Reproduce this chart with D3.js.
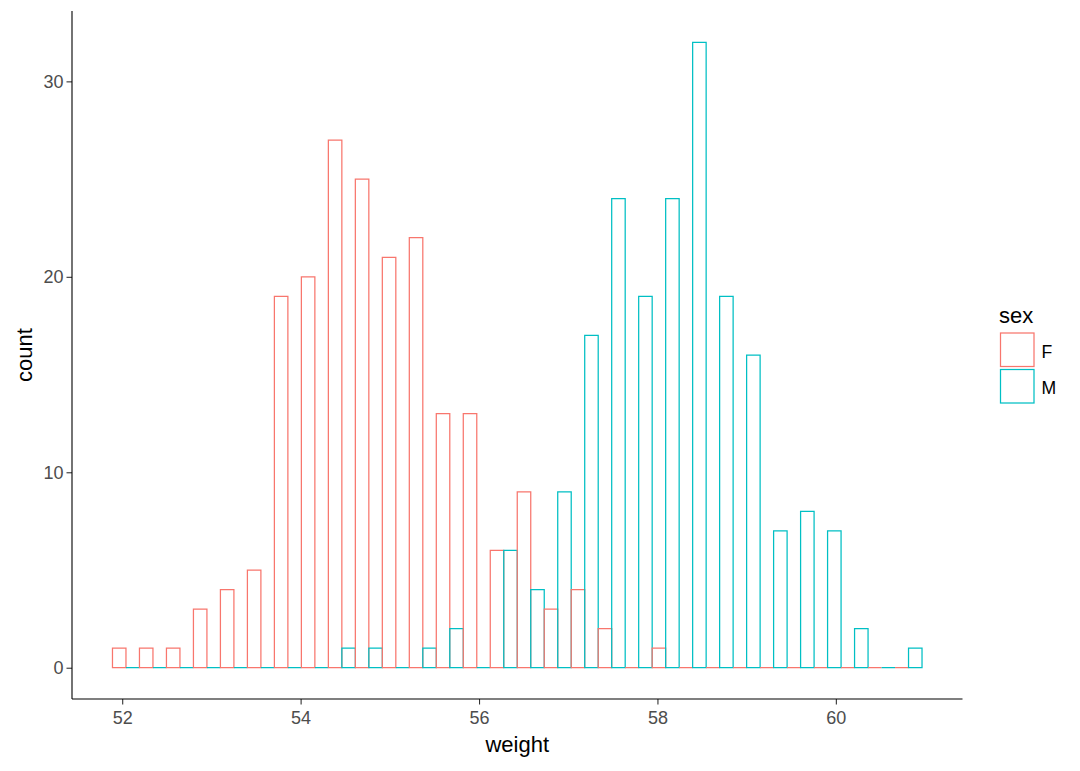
<!DOCTYPE html>
<html>
<head>
<meta charset="utf-8">
<script src="https://cdn.jsdelivr.net/npm/d3@7"></script>
<style>
  html, body { margin: 0; padding: 0; background: #fff; }
  svg { display: block; font-family: "Liberation Sans", Arial, sans-serif; }
</style>
</head>
<body>
<svg id="chart" width="1080" height="771"></svg>
<script>
// ---- data ----
const binStart = 51.891;
const binWidth = 0.3025;
const countsF = [1,1,1,3,4,5,19,20,27,25,21,22,13,13,6,9,3,4,2,0,1,0,0,0,0,0,0,0,0,0];
const countsM = [0,0,0,0,0,0,0,0,1,1,0,1,2,0,6,4,9,17,24,19,24,32,19,16,7,8,7,2,0,1];
const seriesNames = ["F", "M"];
const seriesColors = ["#F8766D", "#00BFC4"];
const xTicks = [52, 54, 56, 58, 60];
const yTicks = [0, 10, 20, 30];

// ---- layout ----
const svg = d3.select("#chart");
const panel = { left: 72, right: 962.5, top: 11, bottom: 699 };
const FONT = "Liberation Sans, Arial, sans-serif";

const nBins = countsF.length;
const dataMin = binStart, dataMax = binStart + nBins * binWidth;
const xPad = (dataMax - dataMin) * 0.05;
const x = d3.scaleLinear().domain([dataMin - xPad, dataMax + xPad]).range([panel.left, panel.right]);
const yMax = d3.max(countsF.concat(countsM));
const y = d3.scaleLinear().domain([-yMax * 0.05, yMax * 1.05]).range([panel.bottom, panel.top]);

const bars = [];
for (let i = 0; i < nBins; i++) {
  const x0 = binStart + i * binWidth;
  bars.push({ s: 0, x0: x0, x1: x0 + binWidth / 2, n: countsF[i] });
  bars.push({ s: 1, x0: x0 + binWidth / 2, x1: x0 + binWidth, n: countsM[i] });
}

const barPath = d => {
  const a = x(d.x0), b = x(d.x1), y0 = y(0), y1 = y(d.n);
  return `M${a},${y0}L${a},${y1}L${b},${y1}L${b},${y0}Z`;
};

svg.append("g").selectAll("path")
  .data(bars)
  .enter().append("path")
  .attr("d", barPath)
  .attr("fill", "none")
  .attr("stroke", d => seriesColors[d.s])
  .attr("stroke-width", 1.25);

// axes
const xAxis = d3.axisBottom(x).tickValues(xTicks).tickSize(5.5).tickPadding(7).tickFormat(d3.format("d"));
const gx = svg.append("g").attr("transform", `translate(0,${panel.bottom})`).call(xAxis);
gx.select(".domain").remove();
gx.append("line").attr("x1", panel.left).attr("x2", panel.right).attr("y1", 0).attr("y2", 0)
  .attr("stroke", "#000").attr("stroke-width", 1.1);
gx.selectAll(".tick line").attr("stroke", "#333").attr("stroke-width", 1.1);
gx.selectAll(".tick text").attr("fill", "#4d4d4d").style("font-size", "18px").style("font-family", FONT);

const yAxis = d3.axisLeft(y).tickValues(yTicks).tickSize(5.5).tickPadding(3).tickFormat(d3.format("d"));
const gy = svg.append("g").attr("transform", `translate(${panel.left},0)`).call(yAxis);
gy.select(".domain").remove();
gy.append("line").attr("x1", 0).attr("x2", 0).attr("y1", panel.top).attr("y2", panel.bottom)
  .attr("stroke", "#000").attr("stroke-width", 1.1);
gy.selectAll(".tick line").attr("stroke", "#333").attr("stroke-width", 1.1);
gy.selectAll(".tick text").attr("fill", "#4d4d4d").style("font-size", "18px").style("font-family", FONT);

// axis titles
svg.append("text").attr("x", (panel.left + panel.right) / 2).attr("y", 752)
  .attr("text-anchor", "middle").style("font-size", "22px").attr("fill", "#000").text("weight");
svg.append("text").attr("transform", `translate(31.5,${(panel.top + panel.bottom) / 2}) rotate(-90)`)
  .attr("text-anchor", "middle").style("font-size", "22px").attr("fill", "#000").text("count");

// legend
const lg = svg.append("g");
lg.append("text").attr("x", 999).attr("y", 323).style("font-size", "22px").attr("fill", "#000").text("sex");
seriesNames.forEach((name, i) => {
  const ky = 333 + i * 36.5;
  lg.append("rect").attr("x", 1000.5).attr("y", ky).attr("width", 33.5).attr("height", 33.5)
    .attr("fill", "none").attr("stroke", seriesColors[i]).attr("stroke-width", 1.25);
  lg.append("text").attr("x", 1041.5).attr("y", ky + 24.5).style("font-size", "17.6px").attr("fill", "#000").text(name);
});
</script>
</body>
</html>
